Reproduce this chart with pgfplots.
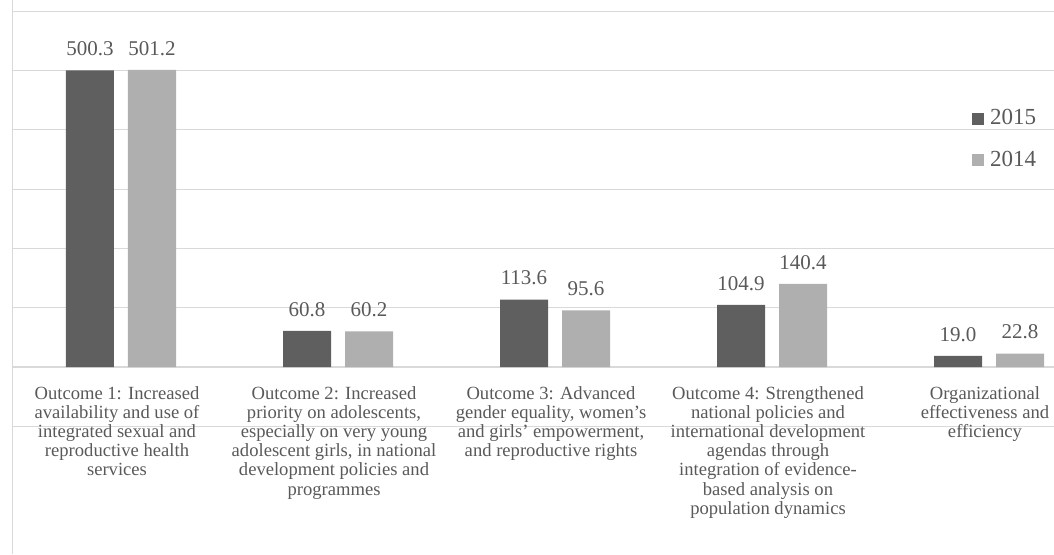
\documentclass[border=0pt]{standalone}
\usepackage{fontspec}
\setmainfont{Liberation Serif}
\usepackage{pgfplots}
\pgfplotsset{compat=1.18}
\definecolor{barDark}{HTML}{5F5F5F}
\definecolor{barLight}{HTML}{AFAFAF}
\definecolor{gridGray}{HTML}{D9D9D9}
\definecolor{labelGray}{HTML}{595959}

\begin{document}
\begin{tikzpicture}
% visible frame of the figure; the axis runs on past its right edge
\useasboundingbox (0,0) rectangle (527pt,277pt);
\clip (0,0) rectangle (527pt,277pt);
\begin{axis}[
  at={(6.25pt,0pt)}, anchor=south west,
  scale only axis, width=542.5pt, height=277pt,
  xmin=-0.5, xmax=4.5, ymin=-315.3, ymax=618.9,
  ybar=7pt, bar width=24pt,
  axis x line*=middle, axis y line*=left,
  axis line style={gridGray, line width=0.6pt},
  ymajorgrids, grid style={gridGray, line width=0.6pt},
  ytick={-100,0,...,600}, yticklabels={},
  xtick={0,...,4},
  xticklabels={
    {Outcome 1: Increased\\availability and use of\\integrated sexual and\\reproductive health\\services},
    {Outcome 2: Increased\\priority on adolescents,\\especially on very young\\adolescent girls, in national\\development policies and\\programmes},
    {Outcome 3: Advanced\\gender equality, women’s\\and girls’ empowerment,\\and reproductive rights},
    {Outcome 4: Strengthened\\national policies and\\international development\\agendas through\\integration of evidence-\\based analysis on\\population dynamics},
    {Organizational\\effectiveness and\\efficiency}},
  major tick length=0pt,
  xticklabel style={align=center, font=\fontsize{9.3}{9.6}\selectfont, text=labelGray, yshift=-6pt, xshift=-2pt},
  nodes near coords={\pgfmathprintnumber[fixed,fixed zerofill,precision=1,assume math mode=true]{\pgfplotspointmeta}},
  every node near coord/.append style={font=\fontsize{10.5}{12}\selectfont, text=labelGray, inner sep=0pt, yshift=7pt},
  legend style={at={(rel axis cs:0.884,0.803)}, anchor=north west, draw=none, fill=none,
    inner sep=0pt, font=\fontsize{11.5}{13}\selectfont, text=labelGray, row sep=11.5pt,
    nodes={inner sep=0pt}, /tikz/every odd column/.append style={column sep=3pt}},
  legend image code/.code={\fill[#1] (0pt,-3pt) rectangle (6pt,3pt);},
]
\addplot[fill=barDark, draw=none] coordinates {(0,500.3) (1,60.8) (2,113.6) (3,104.9) (4,19.0)};
\addplot[fill=barLight, draw=none] coordinates {(0,501.2) (1,60.2) (2,95.6) (3,140.4) (4,22.8)};
\legend{2015,2014}
\end{axis}
\end{tikzpicture}
\end{document}
